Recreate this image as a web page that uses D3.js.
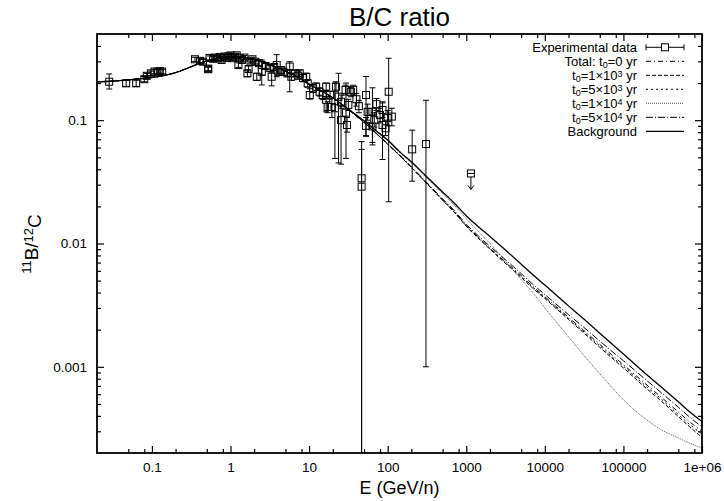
<!DOCTYPE html>
<html><head><meta charset="utf-8">
<script src="https://cdn.jsdelivr.net/npm/d3@7"></script>
<style>
body{margin:0;background:#fff}
text{font-family:"Liberation Sans",Arial,Helvetica,sans-serif;fill:#000}
</style>
</head><body>
<svg id="c" width="724" height="501"></svg>
<script>
// ---------- data ----------
const modelEnergy = [0.02,0.03,0.05,0.07,0.1,0.15,0.2,0.3,0.4,0.5,0.7,1,1.5,2,3,5,7,10,15,20,30,50,70,100,150,200,300,500,700,1000,1500,2000,3000,5000,7000,1e4,2e4,3e4,5e4,7e4,1e5,2e5,3e5,5e5,7e5,1e6];
const background = [0.205,0.207,0.212,0.217,0.222,0.232,0.243,0.268,0.288,0.302,0.318,0.326,0.322,0.31,0.285,0.25,0.225,0.196,0.17,0.152,0.126,0.099,0.083,0.069,0.0538,0.046,0.0358,0.0262,0.0213,0.0168,0.0133,0.0114,0.0091,0.0068,0.0056,0.0046,0.00312,0.0025,0.00187,0.00155,0.00127,0.00086,0.00069,0.00052,0.00043,0.00036];
const totalT0_0 = [0.205,0.207,0.212,0.217,0.222,0.232,0.243,0.268,0.288,0.302,0.318,0.326,0.322,0.31,0.285,0.25,0.225,0.196,0.17,0.152,0.125,0.096,0.079,0.064,0.050,0.0415,0.0318,0.0226,0.0182,0.0140,0.0109,0.0092,0.0073,0.0055,0.0045,0.0037,0.00252,0.00202,0.00152,0.00126,0.00104,0.00071,0.00057,0.00043,0.000357,0.000300];
const totalT0_1e3 = [0.205,0.207,0.212,0.217,0.222,0.232,0.243,0.268,0.288,0.302,0.318,0.326,0.322,0.31,0.285,0.25,0.225,0.196,0.17,0.152,0.125,0.096,0.079,0.0638,0.0498,0.0413,0.0316,0.0224,0.018,0.0138,0.0107,0.009,0.0071,0.0053,0.00435,0.00358,0.00242,0.00193,0.00144,0.00119,0.00098,0.00066,0.00053,0.000395,0.000325,0.000268];
const totalT0_5e3 = [0.205,0.207,0.212,0.217,0.222,0.232,0.243,0.268,0.288,0.302,0.318,0.326,0.322,0.31,0.285,0.25,0.225,0.196,0.17,0.152,0.125,0.096,0.079,0.0639,0.0499,0.0414,0.0317,0.0225,0.0181,0.0139,0.0108,0.0091,0.0072,0.0054,0.00443,0.00364,0.00247,0.00197,0.00148,0.00122,0.00101,0.000685,0.00055,0.00041,0.00034,0.000285];
const totalT0_1e4 = [0.205,0.207,0.212,0.217,0.222,0.232,0.243,0.268,0.288,0.302,0.318,0.326,0.322,0.31,0.285,0.25,0.225,0.196,0.17,0.152,0.126,0.098,0.082,0.068,0.053,0.0452,0.035,0.0254,0.0205,0.0159,0.0121,0.01,0.0075,0.0051,0.004,0.003,0.00175,0.00128,0.00088,0.00069,0.00054,0.00037,0.00031,0.000265,0.00024,0.00022];
const totalT0_5e4 = [0.205,0.207,0.212,0.217,0.222,0.232,0.243,0.268,0.288,0.302,0.318,0.326,0.322,0.31,0.285,0.25,0.225,0.196,0.17,0.152,0.125,0.0962,0.0795,0.0645,0.0505,0.042,0.0322,0.023,0.0186,0.0143,0.0112,0.0095,0.0076,0.0057,0.00468,0.00386,0.00265,0.00214,0.00162,0.00135,0.00112,0.00077,0.00062,0.00047,0.00039,0.000325];

const expEnergy = [0.0286,0.047,0.063,0.080,0.086,0.097,0.108,0.117,0.126,0.135,0.353,0.41,0.447,0.52,0.52,0.54,0.60,0.63,0.68,0.73,0.77,0.84,0.90,0.94,1.00,1.05,1.14,1.20,1.26,1.32,1.40,1.50,1.64,1.70,1.80,1.90,2.08,2.16,2.30,2.50,2.50,2.80,3.20,3.34,3.60,3.87,4.06,4.40,4.70,5.30,5.67,5.95,6.60,7.20,7.60,8.40,9.20,9.60,10.2,11.2,12.3,13.6,14.9,16.5,16.5,17.2,18.5,19.5,21.3,22.0,23.7,25.5,25.5,29.1,29.5,30.4,31.6,34.0,36.4,40.0,43.0,46.6,46.6,53.0,53.0,55.6,64.0,64.0,67.5,72.0,80.0,86.0,86.0,94.0,100,103,113,205,307];
const expRatio = [0.205,0.199,0.199,0.215,0.229,0.240,0.248,0.247,0.250,0.248,0.312,0.303,0.298,0.259,0.262,0.320,0.315,0.322,0.318,0.326,0.308,0.328,0.320,0.330,0.335,0.318,0.327,0.336,0.280,0.318,0.308,0.322,0.240,0.260,0.298,0.312,0.298,0.225,0.290,0.280,0.247,0.275,0.264,0.225,0.270,0.280,0.247,0.255,0.247,0.240,0.272,0.225,0.240,0.230,0.240,0.220,0.225,0.199,0.160,0.181,0.187,0.170,0.160,0.146,0.187,0.128,0.160,0.128,0.125,0.187,0.155,0.141,0.100,0.176,0.115,0.0914,0.133,0.170,0.176,0.148,0.130,0.0338,0.0289,0.160,0.090,0.117,0.117,0.089,0.100,0.135,0.110,0.121,0.0914,0.086,0.104,0.170,0.107,0.058,0.064];
const expLow = [0.179,0.188,0.188,0.205,0.219,0.230,0.238,0.237,0.240,0.238,0.300,0.291,0.286,0.249,0.252,0.308,0.303,0.310,0.306,0.314,0.296,0.316,0.308,0.318,0.323,0.306,0.315,0.324,0.268,0.306,0.296,0.310,0.225,0.245,0.286,0.300,0.286,0.210,0.278,0.193,0.232,0.262,0.250,0.190,0.256,0.225,0.232,0.240,0.232,0.225,0.170,0.210,0.225,0.215,0.225,0.205,0.210,0.185,0.148,0.168,0.174,0.157,0.147,0.117,0.174,0.115,0.148,0.105,0.049,0.170,0.045,0.125,0.044,0.160,0.049,0.080,0.120,0.155,0.160,0.130,0.115,0.00001,0.00001,0.074,0.075,0.100,0.066,0.063,0.088,0.120,0.095,0.105,0.048,0.075,0.090,0.0218,0.090,0.032,0.001];
const expHigh = [0.237,0.211,0.211,0.226,0.239,0.250,0.258,0.257,0.260,0.258,0.324,0.315,0.310,0.269,0.272,0.332,0.327,0.334,0.330,0.338,0.320,0.340,0.332,0.342,0.347,0.330,0.339,0.348,0.292,0.330,0.320,0.334,0.255,0.275,0.310,0.324,0.310,0.240,0.302,0.307,0.262,0.288,0.278,0.245,0.284,0.340,0.262,0.270,0.262,0.255,0.298,0.240,0.255,0.245,0.255,0.235,0.240,0.213,0.180,0.194,0.200,0.183,0.173,0.154,0.200,0.141,0.172,0.150,0.200,0.205,0.240,0.160,0.130,0.192,0.200,0.105,0.148,0.185,0.192,0.165,0.145,0.067,0.058,0.226,0.105,0.135,0.183,0.110,0.115,0.150,0.125,0.138,0.141,0.100,0.120,0.318,0.125,0.083,0.145];
const upperLimitEnergy = [1146];
const upperLimitRatio = [0.037];

const xTickValues = [0.1,1,10,100,1000,10000,100000,1000000];
const xTickLabels = ["0.1","1","10","100","1000","10000","100000","1e+06"];
const yTickValues = [0.001,0.01,0.1];
const yTickLabels = ["0.001","0.01","0.1"];

// ---------- chart ----------
const svg = d3.select("#c");
const m = {left:97, right:702, top:34, bottom:453};
const x = d3.scaleLog().domain([0.02,1e6]).range([m.left,m.right]);
const y = d3.scaleLog().domain([2e-4,0.5]).range([m.bottom,m.top]);

svg.append("defs").append("clipPath").attr("id","clip")
  .append("rect").attr("x",m.left).attr("y",m.top).attr("width",m.right-m.left).attr("height",m.bottom-m.top);

const xMinor = [];
for (let e=-2; e<6; e++) for (const k of [2,5,8]) { const v=k*Math.pow(10,e); if (v>0.02 && v<1e6) xMinor.push(v); }
const yMinor = [];
for (let e=-4; e<0; e++) for (let k=2;k<=9;k++){ const v=k*Math.pow(10,e); if (v>2e-4 && v<0.5) yMinor.push(v); }

function styleAxis(g){ g.select(".domain").remove(); g.selectAll("line").attr("stroke","#000").attr("stroke-width",1.2); g.selectAll("text").style("font-size","13.5px"); }

svg.append("g").attr("transform",`translate(0,${m.bottom})`)
  .call(d3.axisBottom(x).tickValues(xTickValues).tickSize(-7).tickPadding(9).tickFormat((d,i)=>xTickLabels[i])).call(styleAxis);
svg.append("g").attr("transform",`translate(0,${m.bottom})`)
  .call(d3.axisBottom(x).tickValues(xMinor).tickSize(-4).tickFormat("")).call(styleAxis);
svg.append("g").attr("transform",`translate(0,${m.top})`)
  .call(d3.axisTop(x).tickValues(xTickValues).tickSize(-7).tickFormat("")).call(styleAxis);
svg.append("g").attr("transform",`translate(0,${m.top})`)
  .call(d3.axisTop(x).tickValues(xMinor).tickSize(-4).tickFormat("")).call(styleAxis);

svg.append("g").attr("transform",`translate(${m.left},0)`)
  .call(d3.axisLeft(y).tickValues(yTickValues).tickSize(-7).tickPadding(10).tickFormat((d,i)=>yTickLabels[i])).call(styleAxis);
svg.append("g").attr("transform",`translate(${m.left},0)`)
  .call(d3.axisLeft(y).tickValues(yMinor).tickSize(-4).tickFormat("")).call(styleAxis);
svg.append("g").attr("transform",`translate(${m.right},0)`)
  .call(d3.axisRight(y).tickValues(yTickValues).tickSize(-7).tickFormat("")).call(styleAxis);
svg.append("g").attr("transform",`translate(${m.right},0)`)
  .call(d3.axisRight(y).tickValues(yMinor).tickSize(-4).tickFormat("")).call(styleAxis);

const styles = [
  {data: totalT0_0,   dash:"5,3,1,3", color:"#000", w:1},
  {data: totalT0_1e3, dash:"4,2",     color:"#000", w:1},
  {data: totalT0_5e3, dash:"2,3",     color:"#000", w:1},
  {data: totalT0_1e4, dash:"1,1",     color:"#555", w:1},
  {data: totalT0_5e4, dash:"7,2,1,2", color:"#000", w:1},
  {data: background,  dash:null,      color:"#000", w:1.3}
];
const line = d3.line().x(d=>x(d[0])).y(d=>y(d[1])).curve(d3.curveMonotoneX);
const plot = svg.append("g").attr("clip-path","url(#clip)");
styles.forEach(s=>{
  plot.append("path").datum(modelEnergy.map((e,i)=>[e,s.data[i]]))
    .attr("d",line).attr("fill","none").attr("stroke",s.color).attr("stroke-width",s.w)
    .attr("stroke-dasharray",s.dash);
});

const exp = expEnergy.map((e,i)=>({e, v:expRatio[i], lo:expLow[i], hi:expHigh[i]}));
const eg = plot.append("g").attr("stroke","#000").attr("fill","none").attr("stroke-width",1);
exp.forEach(d=>{
  const cx = x(d.e), cy=y(d.v), y1=y(d.lo), y2=y(d.hi);
  eg.append("line").attr("x1",cx).attr("x2",cx).attr("y1",y1).attr("y2",y2);
  eg.append("line").attr("x1",cx-3).attr("x2",cx+3).attr("y1",y1).attr("y2",y1);
  eg.append("line").attr("x1",cx-3).attr("x2",cx+3).attr("y1",y2).attr("y2",y2);
  eg.append("rect").attr("x",cx-3.5).attr("y",cy-3.5).attr("width",7).attr("height",7);
});
upperLimitEnergy.forEach((e,i)=>{
  const cx=x(e), cy=y(upperLimitRatio[i]);
  eg.append("rect").attr("x",cx-3.5).attr("y",cy-3.5).attr("width",7).attr("height",7);
  eg.append("line").attr("x1",cx-3.5).attr("x2",cx+3.5).attr("y1",cy).attr("y2",cy);
  eg.append("line").attr("x1",cx).attr("x2",cx).attr("y1",cy+3.5).attr("y2",cy+16);
  eg.append("path").attr("d",`M${cx-3},${cy+12} L${cx},${cy+16} L${cx+3},${cy+12}`);
});

svg.append("rect").attr("x",m.left).attr("y",m.top).attr("width",m.right-m.left).attr("height",m.bottom-m.top)
  .attr("fill","none").attr("stroke","#000").attr("stroke-width",1.8);

svg.append("text").attr("x",(m.left+m.right)/2).attr("y",26).attr("text-anchor","middle")
  .style("font-size","26px").text("B/C ratio");
svg.append("text").attr("x",(m.left+m.right)/2).attr("y",494).attr("text-anchor","middle")
  .style("font-size","18px").text("E (GeV/n)");
const yl = svg.append("text").attr("transform","translate(38,244) rotate(-90)").attr("text-anchor","middle").style("font-size","19px");
yl.append("tspan").style("font-size","13px").attr("dy","-0.55em").text("11");
yl.append("tspan").attr("dy","0.4em").text("B/");
yl.append("tspan").style("font-size","13px").attr("dy","-0.4em").text("12");
yl.append("tspan").attr("dy","0.4em").text("C");

const legX = 637, s0 = 646, s1 = 684;
const rowY = d => 47.3 + d*14;
const lg = svg.append("g");
function legText(i, parts){
  const t = lg.append("text").attr("x",legX).attr("y",rowY(i)+4.5).attr("text-anchor","end").style("font-size","13px");
  parts.forEach(p=>{
    const ts = t.append("tspan").text(p.t);
    if (p.sub) ts.style("font-size","9px").attr("dy","0.25em");
    if (p.sup) ts.style("font-size","9px").attr("dy","-0.35em");
    if (p.back) ts.attr("dy", p.back);
  });
}
legText(0,[{t:"Experimental data"}]);
legText(1,[{t:"Total: t"},{t:"0",sub:true},{t:"=0 yr",back:"-0.17em"}]);
legText(2,[{t:"t"},{t:"0",sub:true},{t:"=1×10",back:"-0.17em"},{t:"3",sup:true},{t:" yr",back:"0.24em"}]);
legText(3,[{t:"t"},{t:"0",sub:true},{t:"=5×10",back:"-0.17em"},{t:"3",sup:true},{t:" yr",back:"0.24em"}]);
legText(4,[{t:"t"},{t:"0",sub:true},{t:"=1×10",back:"-0.17em"},{t:"4",sup:true},{t:" yr",back:"0.24em"}]);
legText(5,[{t:"t"},{t:"0",sub:true},{t:"=5×10",back:"-0.17em"},{t:"4",sup:true},{t:" yr",back:"0.24em"}]);
legText(6,[{t:"Background"}]);

const ly0 = rowY(0);
lg.append("line").attr("x1",s0).attr("x2",s1).attr("y1",ly0).attr("y2",ly0).attr("stroke","#000");
lg.append("line").attr("x1",s0).attr("x2",s0).attr("y1",ly0-3).attr("y2",ly0+3).attr("stroke","#000");
lg.append("line").attr("x1",s1).attr("x2",s1).attr("y1",ly0-3).attr("y2",ly0+3).attr("stroke","#000");
lg.append("rect").attr("x",(s0+s1)/2-3.5).attr("y",ly0-3.5).attr("width",7).attr("height",7).attr("fill","#fff").attr("stroke","#000");
styles.forEach((s,i)=>{
  lg.append("line").attr("x1",s0).attr("x2",s1).attr("y1",rowY(i+1)).attr("y2",rowY(i+1))
    .attr("stroke",s.color).attr("stroke-width",s.w).attr("stroke-dasharray",s.dash);
});
</script>
</body></html>
